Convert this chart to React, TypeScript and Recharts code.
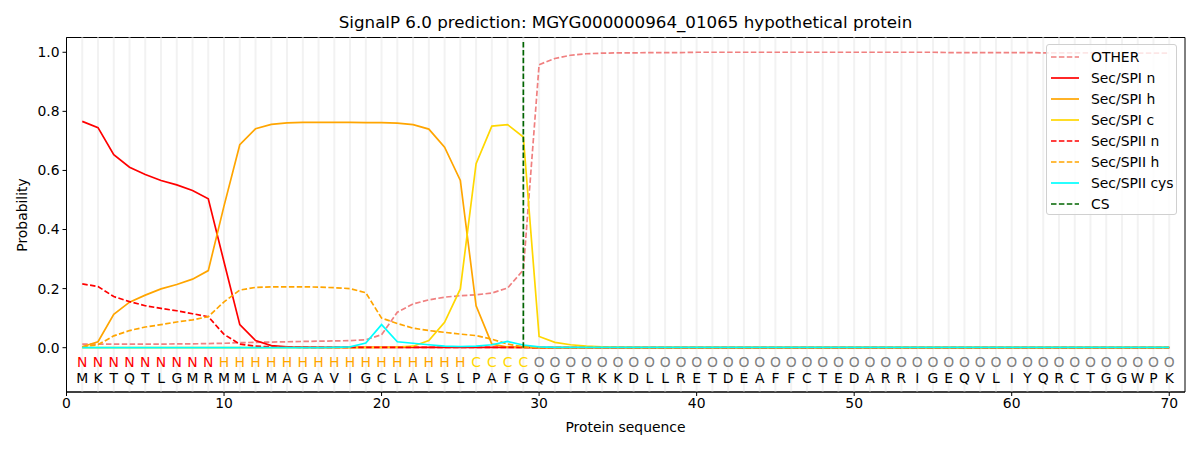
import React from "react";
import {
  LineChart,
  Line,
  XAxis,
  YAxis,
  ReferenceLine,
  ReferenceArea,
} from "recharts";

const SEQUENCE = "MKTQTLGMRMMLMAGAVIGCLALSLPAFGQGTRKKDLLRETDEAFFCTEDARRIGEQVLIYQRCTGGWPK".split("");
const REGIONS = "NNNNNNNNNHHHHHHHHHHHHHHHHCCCCOOOOOOOOOOOOOOOOOOOOOOOOOOOOOOOOOOOOOOOOO".split("");

const OTHER = [
  0.012, 0.012, 0.012, 0.012, 0.012, 0.012, 0.013, 0.013, 0.014, 0.015,
  0.017, 0.018, 0.019, 0.02, 0.021, 0.022, 0.023, 0.024, 0.027, 0.044,
  0.12, 0.148, 0.162, 0.171, 0.176, 0.179, 0.185, 0.202, 0.263, 0.958,
  0.979, 0.99, 0.995, 0.997, 0.998, 0.998, 0.999, 0.999, 0.999, 1.0,
  1.0, 1.0, 1.0, 1.0, 1.0, 1.0, 1.0, 1.0, 1.0, 1.0,
  1.0, 1.0, 1.0, 1.0, 1.0, 0.999, 0.999, 0.999, 0.999, 0.999,
  0.999, 0.998, 0.998, 0.998, 0.998, 0.998, 0.997, 0.997, 0.997, 0.997,
];
const SPI_N = [
  0.766, 0.745, 0.653, 0.611, 0.586, 0.566, 0.551, 0.532, 0.504, 0.29,
  0.078, 0.024, 0.007, 0.003, 0.002, 0.001, 0.001, 0.001, 0.001, 0.001,
  0.001, 0.001, 0.001, 0.001, 0.001, 0.001, 0.001, 0.001, 0.001, 0,
  0, 0, 0, 0, 0, 0, 0, 0, 0, 0,
  0, 0, 0, 0, 0, 0, 0, 0, 0, 0,
  0, 0, 0, 0, 0, 0, 0, 0, 0, 0,
  0, 0, 0, 0, 0, 0, 0, 0, 0, 0,
];
const SPI_H = [
  0.003, 0.02, 0.113, 0.154, 0.178, 0.199, 0.214, 0.232, 0.261, 0.48,
  0.687, 0.741, 0.756, 0.761, 0.763, 0.763, 0.763, 0.763, 0.762, 0.762,
  0.76, 0.755, 0.74, 0.679, 0.566, 0.142, 0.012, 0.002, 0.001, 0,
  0, 0, 0, 0, 0, 0, 0, 0, 0, 0,
  0, 0, 0, 0, 0, 0, 0, 0, 0, 0,
  0, 0, 0, 0, 0, 0, 0, 0, 0, 0,
  0, 0, 0, 0, 0, 0, 0, 0, 0, 0,
];
const SPI_C = [
  0, 0, 0, 0, 0, 0, 0, 0, 0, 0,
  0, 0, 0, 0, 0, 0, 0, 0, 0.001, 0.001,
  0.002, 0.005, 0.024, 0.086, 0.199, 0.623, 0.75, 0.755, 0.713, 0.038,
  0.018, 0.01, 0.005, 0.003, 0.002, 0.001, 0.001, 0.001, 0.001, 0.001,
  0.001, 0.001, 0.001, 0.001, 0.001, 0.001, 0.001, 0.001, 0.001, 0.001,
  0.001, 0.001, 0.001, 0.001, 0.001, 0.001, 0.001, 0.001, 0.001, 0.001,
  0.001, 0.001, 0.001, 0.001, 0.001, 0.001, 0.001, 0.001, 0.001, 0.001,
];
const SPII_N = [
  0.216, 0.207, 0.173, 0.156, 0.142, 0.133, 0.125, 0.115, 0.105, 0.045,
  0.012, 0.005, 0.003, 0.002, 0.001, 0.001, 0.001, 0.001, 0.001, 0.001,
  0.001, 0.001, 0.001, 0.001, 0.001, 0.001, 0.001, 0.001, 0.001, 0,
  0, 0, 0, 0, 0, 0, 0, 0, 0, 0,
  0, 0, 0, 0, 0, 0, 0, 0, 0, 0,
  0, 0, 0, 0, 0, 0, 0, 0, 0, 0,
  0, 0, 0, 0, 0, 0, 0, 0, 0, 0,
];
const SPII_H = [
  0.003, 0.01, 0.04, 0.058, 0.07, 0.078, 0.087, 0.094, 0.105, 0.155,
  0.195, 0.204, 0.206, 0.206, 0.206, 0.205, 0.203, 0.2, 0.186, 0.1,
  0.082, 0.066, 0.058, 0.052, 0.046, 0.041, 0.029, 0.012, 0.003, 0,
  0, 0, 0, 0, 0, 0, 0, 0, 0, 0,
  0, 0, 0, 0, 0, 0, 0, 0, 0, 0,
  0, 0, 0, 0, 0, 0, 0, 0, 0, 0,
  0, 0, 0, 0, 0, 0, 0, 0, 0, 0,
];
const SPII_CYS = [
  0, 0, 0, 0, 0, 0, 0, 0, 0, 0,
  0, 0, 0, 0, 0, 0, 0.001, 0.003, 0.016, 0.078,
  0.02, 0.015, 0.01, 0.005, 0.004, 0.005, 0.01, 0.021, 0.009, 0.003,
  0.001, 0.001, 0.001, 0.001, 0.001, 0.001, 0.001, 0.001, 0.001, 0.001,
  0.001, 0.001, 0.001, 0.001, 0.001, 0.001, 0.001, 0.001, 0.001, 0.001,
  0.001, 0.001, 0.001, 0.001, 0.001, 0.001, 0.001, 0.001, 0.001, 0.001,
  0.001, 0.001, 0.001, 0.001, 0.001, 0.001, 0.001, 0.001, 0.001, 0.001,
];

const CS_POSITION = 29;
const X_TICKS = [0, 10, 20, 30, 40, 50, 60, 70];
const Y_TICKS = [0, 0.2, 0.4, 0.6, 0.8, 1.0];
const LABEL_Y = -0.047;

const REGION_COLORS: Record<string, string> = {
  N: "#ff0000",
  H: "#ffa500",
  C: "#ffd700",
  O: "#808080",
};

const FONT = "'DejaVu Sans', sans-serif";
const DASH = "5.5 2.4";

const SERIES = [
  { key: "other", name: "OTHER", color: "#f08080", dash: DASH },
  { key: "spiN", name: "Sec/SPI n", color: "#ff0000", dash: undefined },
  { key: "spiH", name: "Sec/SPI h", color: "#ffa500", dash: undefined },
  { key: "spiC", name: "Sec/SPI c", color: "#ffd700", dash: undefined },
  { key: "spiiN", name: "Sec/SPII n", color: "#ff0000", dash: DASH },
  { key: "spiiH", name: "Sec/SPII h", color: "#ffa500", dash: DASH },
  { key: "spiiCys", name: "Sec/SPII cys", color: "#00ffff", dash: undefined },
];

const rows = SEQUENCE.map((aa, i) => ({
  pos: i + 1,
  aa,
  region: REGIONS[i],
  label: LABEL_Y,
  other: OTHER[i],
  spiN: SPI_N[i],
  spiH: SPI_H[i],
  spiC: SPI_C[i],
  spiiN: SPII_N[i],
  spiiH: SPII_H[i],
  spiiCys: SPII_CYS[i],
}));

const positions = rows.map((r) => r.pos);

const LetterDot = (props: any) => {
  const { cx, cy, payload, index } = props;
  if (cx == null || cy == null) return <g key={`l-${index}`} />;
  return (
    <g key={`l-${index}`}>
      <text
        x={cx}
        y={cy}
        textAnchor="middle"
        dominantBaseline="central"
        fontFamily={FONT}
        fontSize={13.9}
        fill={REGION_COLORS[payload.region]}
      >
        {payload.region}
      </text>
      <text
        x={cx}
        y={cy + 16}
        textAnchor="middle"
        dominantBaseline="central"
        fontFamily={FONT}
        fontSize={13.9}
        fill="#000"
      >
        {payload.aa}
      </text>
    </g>
  );
};

export default function App() {
  return (
    <div style={{ position: "absolute", left: 0, top: 0, width: 1200, height: 450, background: "#fff" }}>
      <LineChart
        width={1200}
        height={450}
        data={rows}
        margin={{ top: 37.5, right: 15, bottom: 0, left: 0 }}
      >
        <XAxis
          dataKey="pos"
          type="number"
          domain={[0, 71]}
          ticks={X_TICKS}
          height={58}
          tickSize={4}
          tickMargin={2}
          stroke="#000"
          tick={{ fill: "#000", fontSize: 13.9, fontFamily: FONT }}
          allowDataOverflow
        />
        <YAxis
          type="number"
          domain={[-0.15, 1.05]}
          ticks={Y_TICKS}
          width={66.5}
          tickSize={4}
          tickMargin={3}
          stroke="#000"
          tickFormatter={(v: number) => v.toFixed(1)}
          tick={{ fill: "#000", fontSize: 13.9, fontFamily: FONT }}
          allowDataOverflow
        />
        {positions.map((p) => (
          <ReferenceLine key={`g-${p}`} x={p} stroke="#f2f2f2" strokeWidth={2} />
        ))}
        <ReferenceArea
          x1={0}
          x2={71}
          y1={-0.15}
          y2={1.05}
          fill="none"
          stroke="#000"
          strokeWidth={1}
          fillOpacity={0}
        />
        {SERIES.map((s) => (
          <Line
            key={s.key}
            dataKey={s.key}
            name={s.name}
            type="linear"
            stroke={s.color}
            strokeWidth={1.7}
            strokeDasharray={s.dash}
            dot={false}
            activeDot={false}
            isAnimationActive={false}
          />
        ))}
        <ReferenceLine
          segment={[
            { x: CS_POSITION, y: 0 },
            { x: CS_POSITION, y: 1.037 },
          ]}
          stroke="#006400"
          strokeWidth={1.7}
          strokeDasharray={DASH}
        />
        <Line
          dataKey="label"
          stroke="none"
          dot={LetterDot}
          activeDot={false}
          legendType="none"
          isAnimationActive={false}
        />
      </LineChart>

      <div
        style={{
          position: "absolute",
          left: 66,
          width: 1119,
          top: 12,
          textAlign: "center",
          fontFamily: FONT,
          fontSize: 16.7,
          color: "#000",
          whiteSpace: "nowrap",
        }}
      >
        SignalP 6.0 prediction: MGYG000000964_01065 hypothetical protein
      </div>
      <div
        style={{
          position: "absolute",
          left: 66,
          width: 1119,
          top: 419,
          textAlign: "center",
          fontFamily: FONT,
          fontSize: 13.9,
          color: "#000",
        }}
      >
        Protein sequence
      </div>
      <div
        style={{
          position: "absolute",
          left: 22,
          top: 215,
          transform: "translate(-50%, -50%) rotate(-90deg)",
          fontFamily: FONT,
          fontSize: 13.9,
          color: "#000",
          whiteSpace: "nowrap",
        }}
      >
        Probability
      </div>

      <div
        style={{
          position: "absolute",
          left: 1046,
          top: 44,
          width: 131,
          height: 171,
          border: "1px solid #d0d0d0",
          borderRadius: 3,
          background: "rgba(255,255,255,0.8)",
          boxSizing: "border-box",
        }}
      >
        {[...SERIES, { key: "cs", name: "CS", color: "#006400", dash: DASH }].map((s, i) => (
          <div
            key={s.key}
            style={{
              position: "absolute",
              left: 4,
              top: 1 + i * 21,
              height: 21,
              display: "flex",
              alignItems: "center",
            }}
          >
            <svg width={29} height={10} style={{ display: "block" }}>
              <line
                x1={0}
                y1={5}
                x2={28}
                y2={5}
                stroke={s.color}
                strokeWidth={1.7}
                strokeDasharray={s.dash}
              />
            </svg>
            <span
              style={{
                marginLeft: 11,
                fontFamily: FONT,
                fontSize: 13.9,
                color: "#000",
                whiteSpace: "nowrap",
              }}
            >
              {s.name}
            </span>
          </div>
        ))}
      </div>
    </div>
  );
}
